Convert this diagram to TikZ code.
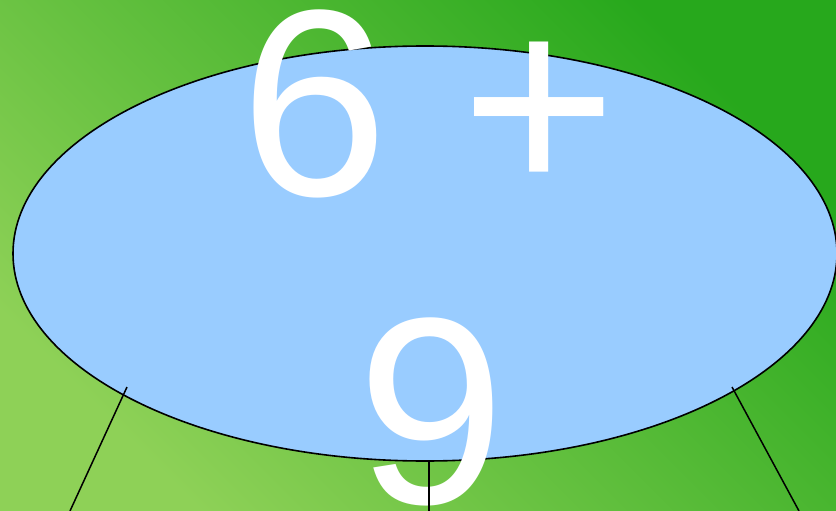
\documentclass[tikz,border=0pt]{standalone}
\usepackage{fontspec}
\setmainfont{Liberation Sans}
\usetikzlibrary{shapes.geometric}
\definecolor{GrassDark}{HTML}{27A81C}
\definecolor{GrassLight}{HTML}{8ED157}
\definecolor{Sky}{HTML}{99CCFF}
\tikzset{
  opnode/.style={ellipse,draw=black,line width=1.6pt,fill=Sky,minimum width=824pt,minimum height=415pt,inner sep=0pt},
  bigtext/.style={text=white,font=\fontsize{266}{308}\selectfont,inner sep=0pt,anchor=base},
  branch/.style={draw=black,line width=1.5pt}
}
\begin{document}
\begin{tikzpicture}[x=1pt,y=-1pt]
\useasboundingbox (0,0) rectangle (836,511);
\shade[bottom color=GrassLight,top color=GrassDark,shading angle=-45] (0,0) rectangle (836,511);
\node[opnode] (root) at (425,253.5) {};
\node[bigtext] (sumtop) at (429,195) {6 +};
\node[bigtext] (sumbot) at (431,503) {9};
\coordinate (lstub) at (127,387);
\coordinate (mstub) at (429,461);
\coordinate (rstub) at (732,387);
\coordinate (lkid) at (70,511);
\coordinate (mkid) at (429,511);
\coordinate (rkid) at (799,511);
\draw[branch] (lstub)--(lkid);\draw[branch] (mstub)--(mkid);\draw[branch] (rstub)--(rkid);
\end{tikzpicture}
\end{document}
